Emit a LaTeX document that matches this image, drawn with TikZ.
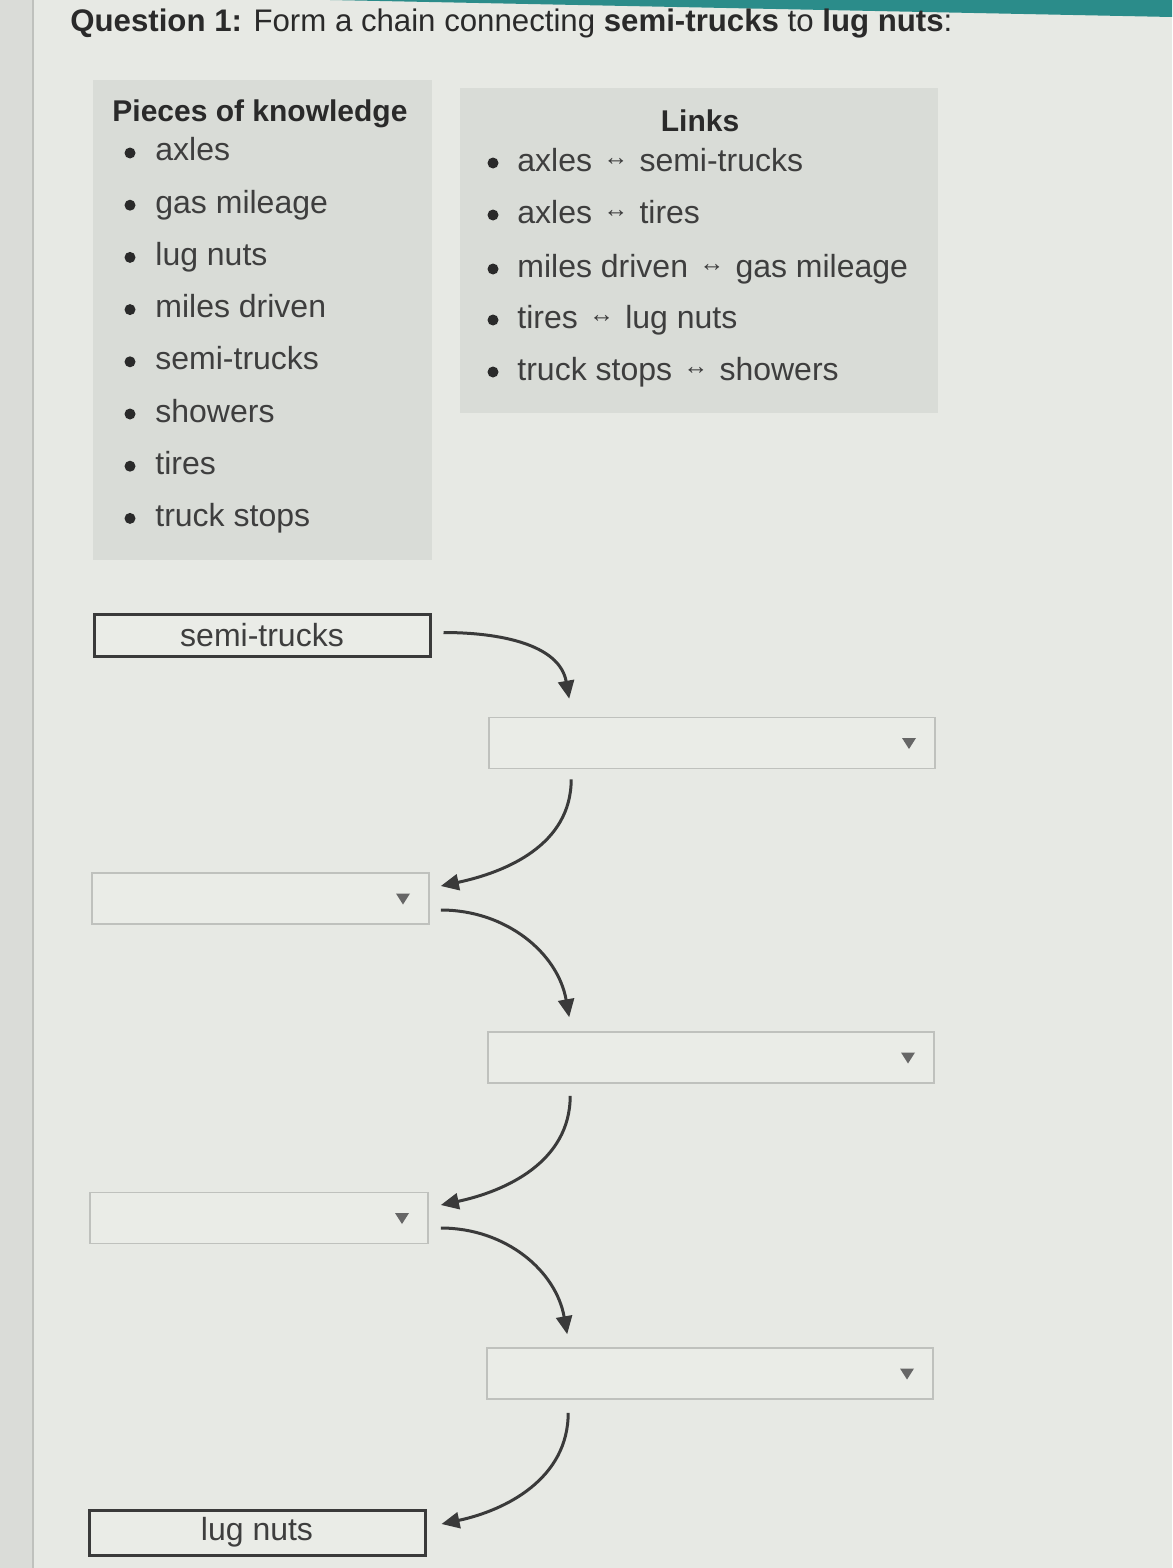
\documentclass[tikz,border=0pt]{standalone}
\usepackage{fontspec}
\setmainfont{Liberation Sans}
\usetikzlibrary{calc,arrows.meta}
\definecolor{pagebg}{HTML}{E7E9E4}
\definecolor{stripbg}{HTML}{DADCD8}
\definecolor{panelbg}{HTML}{D9DCD7}
\definecolor{tealbar}{HTML}{2B8C8A}
\definecolor{ink}{HTML}{3E3E3E}
\definecolor{headink}{HTML}{2A2A2A}
\definecolor{ddline}{HTML}{BFC1BD}
\definecolor{ddfill}{HTML}{EAECE7}
\definecolor{arrowink}{HTML}{3A3A3A}
\newcommand{\lnk}{\hspace{0.35em}\raisebox{0.3ex}{\fontsize{12.5}{12}\selectfont ↔}\hspace{0.35em}}
\tikzset{
  panel/.style={fill=panelbg, draw=none, anchor=north west, inner sep=0pt},
  heading/.style={text=headink, font=\fontsize{15}{18}\selectfont\bfseries, inner sep=0pt},
  item/.style={text=ink, font=\fontsize{16}{19}\selectfont, anchor=base west, inner sep=0pt},
  bulletdot/.style={fill=headink},
  fixedbox/.style={draw=arrowink, line width=1.5pt, fill=ddfill, text=ink,
    font=\fontsize{16}{19}\selectfont, minimum width=168pt, minimum height=21pt, inner sep=0pt},
  dropbox/.style={draw=ddline, line width=0.8pt, fill=ddfill, minimum height=25.5pt, inner sep=0pt,
    path picture={\fill[black!60] ($(path picture bounding box.east)+(-33,5)$) -- ++(14,0) -- ++(-7,-11) -- cycle;}},
  conn/.style={draw=arrowink, line width=1.5pt, -{Triangle[length=9pt,width=8pt]}},
}
\begin{document}
\begin{tikzpicture}[x=0.5pt,y=0.5pt]
\useasboundingbox (0,0) rectangle (1172,-1568);
% background
\fill[pagebg] (0,0) rectangle (1172,-1568);
\fill[stripbg] (0,0) rectangle (33,-1568);
\draw[ddline, line width=0.8pt] (33,0) -- (33,-1568);
\fill[tealbar] (330,0) -- (1172,0) -- (1172,-17) -- cycle;
% title
\node[anchor=base west, inner sep=0pt, text=headink, font=\fontsize{15.6}{18}\selectfont] (title) at (70,-32)
  {\textbf{Question 1:} Form a chain connecting \textbf{semi-trucks} to \textbf{lug nuts}:};
% knowledge panel
\node[panel, minimum width=169.5pt, minimum height=240pt] (kbox) at (93,-80) {};
\node[heading, anchor=base west] (khead) at (112,-121) {Pieces of knowledge};
\foreach \t [count=\i] in {axles,gas mileage,lug nuts,miles driven,semi-trucks,showers,tires,truck stops}{
  \pgfmathsetmacro{\yy}{-153-52.2*(\i-1)}
  \fill[bulletdot] (130,\yy) circle (5.5);
  \node[item] (k\i) at (155,\yy-8) {\t};
}
% links panel
\node[panel, minimum width=239pt, minimum height=162.5pt] (lbox) at (460,-88) {};
\node[heading, anchor=base] (lhead) at (700,-132) {Links};
\foreach \t/\y [count=\i] in {axles\lnk semi-trucks/163,
  axles\lnk tires/215,
  miles driven\lnk gas mileage/269,
  tires\lnk lug nuts/320,
  truck stops\lnk showers/372}{
  \fill[bulletdot] (493,-\y) circle (5.5);
  \node[item] (l\i) at (517,-\y-8) {\t};
}
% chain
\node[fixedbox] (st) at (262,-635.5) {semi-trucks};
\node[dropbox, minimum width=223pt] (d1) at (712,-743) {};
\node[dropbox, minimum width=168.5pt] (d2) at (260.5,-898.5) {};
\node[dropbox, minimum width=223pt] (d3) at (711,-1057.5) {};
\node[dropbox, minimum width=169pt] (d4) at (259,-1218) {};
\node[dropbox, minimum width=223pt] (d5) at (710,-1373.5) {};
\node[fixedbox, minimum height=22.5pt] (ln) at (257,-1532.5) {lug nuts};
% connectors
\draw[conn] ([xshift=6pt,yshift=1.5pt]st.east) to[out=0,in=100] ([xshift=40.5pt,yshift=9pt]d1.north west);
\draw[conn] ([xshift=41.5pt,yshift=-5pt]d1.south west) to[out=-90,in=12] ([xshift=5.5pt,yshift=6.25pt]d2.east);
\draw[conn] ([xshift=5.5pt,yshift=-5.75pt]d2.east) to[out=0,in=100] ([xshift=41pt,yshift=7pt]d3.north west);
\draw[conn] ([xshift=41.5pt,yshift=-6pt]d3.south west) to[out=-90,in=12] ([xshift=6pt,yshift=6.5pt]d4.east);
\draw[conn] ([xshift=6pt,yshift=-5pt]d4.east) to[out=0,in=100] ([xshift=40.5pt,yshift=6.5pt]d5.north west);
\draw[conn] ([xshift=41pt,yshift=-6.5pt]d5.south west) to[out=-90,in=12] ([xshift=7.5pt,yshift=4.25pt]ln.east);
\end{tikzpicture}
\end{document}
